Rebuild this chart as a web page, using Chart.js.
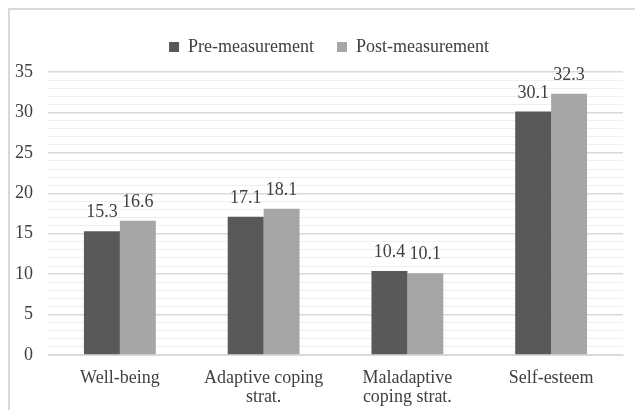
<!DOCTYPE html>
<html>
<head>
<meta charset="utf-8">
<script src="https://cdn.jsdelivr.net/npm/chart.js@4.4.1/dist/chart.umd.min.js"></script>
<style>
  html, body { margin: 0; padding: 0; background: #ffffff; }
  #wrap { position: relative; width: 635px; height: 410px; }
</style>
</head>
<body>
<div id="wrap"><canvas id="chart" width="635" height="410"></canvas></div>
<script>
  // values
  const categories = [
    "Well-being",
    ["Adaptive coping", "strat."],
    ["Maladaptive", "coping strat."],
    "Self-esteem",
  ];
  const preValues = [15.3, 17.1, 10.4, 30.1];
  const postValues = [16.6, 18.1, 10.1, 32.3];
  const seriesNames = ["Pre-measurement", "Post-measurement"];
  const yMax = 35;

  const TEXT = "#404040";
  const FONT = "'Liberation Serif', 'Times New Roman', serif";
  const SIZE = 18;

  /** light frame round the whole chart, open at right and bottom like the source */
  const framePlugin = {
    id: "frame",
    beforeDraw(chart) {
      const ctx = chart.ctx;
      ctx.save();
      ctx.fillStyle = "#ffffff";
      ctx.fillRect(0, 0, chart.width, chart.height);
      ctx.strokeStyle = "#d9d9d9";
      ctx.lineWidth = 2;
      ctx.strokeRect(9, 9, chart.width + 20, chart.height + 20);
      ctx.restore();
    },
  };

  /** extra room under the legend, and nudge it a bit right like the source */
  const legendSpace = {
    id: "legendSpace",
    afterInit(chart) {
      const lg = chart.legend;
      if (!lg) return;
      const fit = lg.fit;
      lg.fit = function () {
        fit.call(this);
        this.height += 6;
      };
    },
    afterLayout(chart) {
      const lg = chart.legend;
      if (!lg) return;
      lg.left += 11;
      lg.right += 11;
    },
  };

  /** value above each bar */
  const valueLabels = {
    id: "valueLabels",
    afterDatasetsDraw(chart) {
      const ctx = chart.ctx;
      ctx.save();
      ctx.font = SIZE + "px " + FONT;
      ctx.fillStyle = TEXT;
      ctx.textAlign = "center";
      ctx.textBaseline = "alphabetic";
      chart.data.datasets.forEach((ds, i) => {
        chart.getDatasetMeta(i).data.forEach((bar, j) => {
          ctx.fillText(ds.data[j].toFixed(1), bar.x, bar.y - 14);
        });
      });
      ctx.restore();
    },
  };

  Chart.defaults.font.family = FONT;
  Chart.defaults.font.size = SIZE;
  Chart.defaults.color = TEXT;

  new Chart(document.getElementById("chart"), {
    type: "bar",
    data: {
      labels: categories,
      datasets: [
        {
          label: seriesNames[0],
          data: preValues,
          backgroundColor: "#595959",
          categoryPercentage: 0.5,
          barPercentage: 1.0,
        },
        {
          label: seriesNames[1],
          data: postValues,
          backgroundColor: "#a6a6a6",
          categoryPercentage: 0.5,
          barPercentage: 1.0,
        },
      ],
    },
    options: {
      responsive: false,
      animation: false,
      layout: { padding: { left: 13, right: 12, top: 15, bottom: 0 } },
      plugins: {
        legend: {
          position: "top",
          labels: {
            boxWidth: 10,
            boxHeight: 10,
            padding: 23,
            color: TEXT,
            font: { size: SIZE, family: FONT },
          },
        },
        tooltip: { enabled: false },
      },
      scales: {
        x: {
          afterFit: (s) => { s.height = 55; },
          grid: { display: false, drawTicks: false },
          border: { display: true, color: "#d9d9d9", width: 1 },
          ticks: { color: TEXT, padding: 14, font: { size: SIZE, family: FONT, lineHeight: 1.05 } },
        },
        y: {
          min: 0,
          max: yMax,
          afterFit: (s) => { s.width = 35; },
          border: { display: false },
          grid: {
            drawTicks: false,
            color: (c) => (c.tick && c.tick.value % 5 === 0 ? "#d9d9d9" : "#efefef"),
            lineWidth: (c) => (c.tick && c.tick.value % 5 === 0 ? 1.5 : 1),
          },
          ticks: {
            stepSize: 1,
            autoSkip: false,
            padding: 15,
            color: TEXT,
            font: { size: SIZE, family: FONT },
            callback: (v) => (v % 5 === 0 ? v : ""),
          },
        },
      },
    },
    plugins: [framePlugin, legendSpace, valueLabels],
  });
</script>
</body>
</html>
